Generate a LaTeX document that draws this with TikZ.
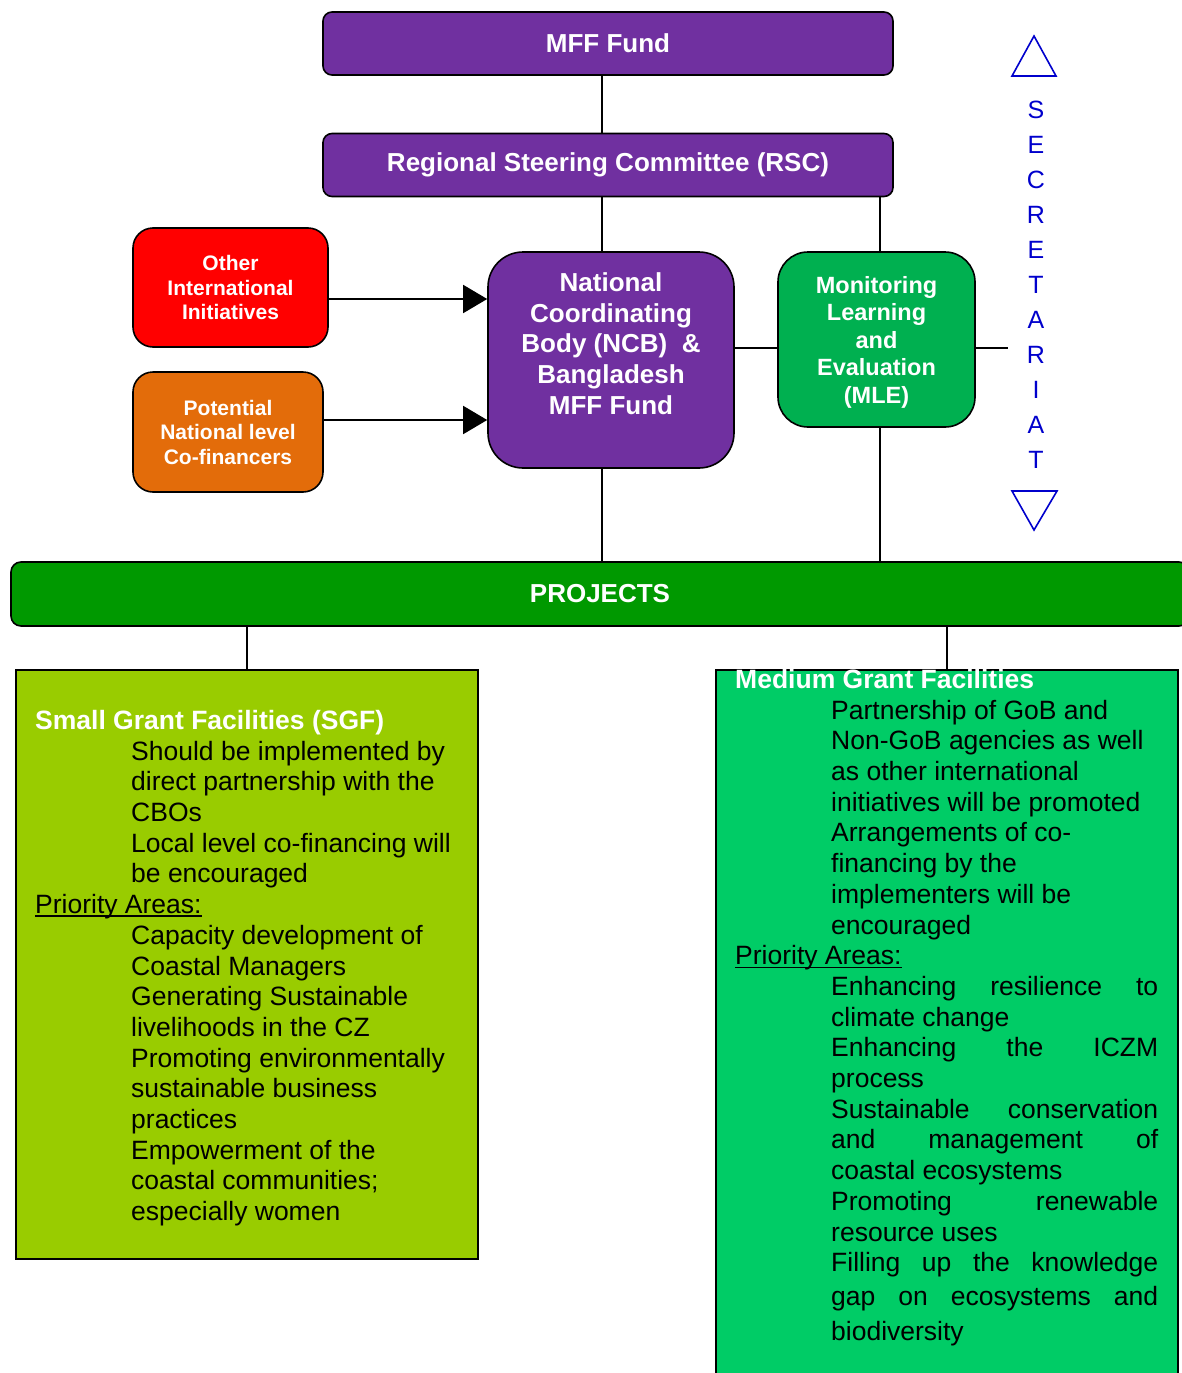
\documentclass[tikz,border=0pt]{standalone}
\usepackage{fontspec}
\setmainfont{Liberation Sans}
\usetikzlibrary{arrows.meta}
\definecolor{boardpurple}{HTML}{7030A0}
\definecolor{intlred}{HTML}{FF0000}
\definecolor{cofinorange}{HTML}{E36C0A}
\definecolor{mlegreen}{HTML}{00B050}
\definecolor{projgreen}{HTML}{009900}
\definecolor{sgflime}{HTML}{99CC00}
\definecolor{mgfgreen}{HTML}{00CC66}
\definecolor{secblue}{HTML}{0000CC}
\newcommand{\ind}{\hspace*{96pt}}
\newcommand{\jline}[1]{\makebox[327pt][s]{#1}}
\newsavebox{\ulbox}
\newcommand{\uln}[1]{\sbox{\ulbox}{#1}\rlap{\rule[-3pt]{\wd\ulbox}{1.2pt}}\usebox{\ulbox}}

\begin{document}
\begin{tikzpicture}[x=1pt,y=-1pt,
    box/.style={draw=black,line width=1.6pt,text=white,align=center,inner sep=0pt},
    link/.style={black,line width=1.6pt},
    feed/.style={link,-{Triangle[length=24pt,width=28pt]}},
    bodytext/.style={inner sep=0pt,anchor=north west,align=left,font=\fontsize{26.5}{30.7}\selectfont}]
  \useasboundingbox (0,0) rectangle (1182,1373);
  \clip (0,0) rectangle (1182,1373);
  % top of the structure
  \node[box,fill=boardpurple,rounded corners=9pt,minimum width=570pt,minimum height=63pt,font=\bfseries\fontsize{26}{30}\selectfont] (mff) at (608,43.5) {MFF Fund};
  \node[box,fill=boardpurple,rounded corners=9pt,minimum width=570pt,minimum height=63pt,font=\bfseries\fontsize{26}{30}\selectfont] (rsc) at (608,165) {Regional Steering Committee (RSC)};
  \node[box,fill=intlred,rounded corners=20pt,minimum width=195pt,minimum height=119pt,font=\bfseries\fontsize{21}{24.5}\selectfont] (oii) at (230.5,287.5) {Other\\International\\Initiatives};
  \node[box,fill=cofinorange,rounded corners=20pt,minimum width=190pt,minimum height=120pt,font=\bfseries\fontsize{21}{24.5}\selectfont] (pot) at (228,432) {Potential\\National level\\Co-financers};
  \node[box,fill=boardpurple,rounded corners=35pt,minimum width=246pt,minimum height=216pt] (ncb) at (611,360) {};
  \node[text=white,align=center,inner sep=0pt,font=\bfseries\fontsize{26}{30.7}\selectfont] (ncbtext) at (611,343.5) {National\\Coordinating\\Body (NCB)~~\&\\Bangladesh\\MFF Fund};
  \node[box,fill=mlegreen,rounded corners=30pt,minimum width=197pt,minimum height=175pt] (mle) at (876.5,339.5) {};
  \node[text=white,align=center,inner sep=0pt,font=\bfseries\fontsize{23.5}{27.5}\selectfont] (mletext) at (876.5,342) {Monitoring\\Learning\\and\\Evaluation\\(MLE)};
  % secretariat
  \foreach \l [count=\i] in {S,E,C,R,E,T,A,R,I,A,T}
    \node[text=secblue,inner sep=0pt,font=\fontsize{25}{30}\selectfont] (sec\i) at (1036,75+35*\i) {\l};
  \draw[secblue,line width=1.6pt,line join=miter] (1034,36) -- (1056,76) -- (1012,76) -- cycle;
  \draw[secblue,line width=1.6pt,line join=miter] (1012,491) -- (1057,491) -- (1034,530) -- cycle;
  % projects
  \node[box,fill=projgreen,rounded corners=10pt,minimum width=1178pt,minimum height=64pt,font=\bfseries\fontsize{26}{30}\selectfont] (proj) at (600,594) {PROJECTS};
  \node[draw=black,line width=1.6pt,fill=sgflime,minimum width=462pt,minimum height=589pt,inner sep=0pt] (sgf) at (247,964.5) {};
  \node[draw=black,line width=1.6pt,fill=mgfgreen,minimum width=462pt,minimum height=720pt,inner sep=0pt] (mgf) at (947,1030) {};
  \node[bodytext] (sgftext) at (35,710) {{\bfseries\color{white}Small Grant Facilities (SGF)}\\
    \ind Should be implemented by\\
    \ind direct partnership with the\\
    \ind CBOs\\
    \ind Local level co-financing will\\
    \ind be encouraged\\
    \uln{Priority Areas:}\\
    \ind Capacity development of\\
    \ind Coastal Managers\\
    \ind Generating Sustainable\\
    \ind livelihoods in the CZ\\
    \ind Promoting environmentally\\
    \ind sustainable business\\
    \ind practices\\
    \ind Empowerment of the\\
    \ind coastal communities;\\
    \ind especially women};
  \node[bodytext] (mgftext) at (735,669) {{\bfseries\color{white}Medium Grant Facilities}\\
    \ind Partnership of GoB and\\
    \ind Non-GoB agencies as well\\
    \ind as other international\\
    \ind initiatives will be promoted\\
    \ind Arrangements of co-\\
    \ind financing by the\\
    \ind implementers will be\\
    \ind encouraged\\
    \uln{Priority Areas:}\\
    \ind\jline{Enhancing resilience to}\\
    \ind climate change\\
    \ind\jline{Enhancing the ICZM}\\
    \ind process\\
    \ind\jline{Sustainable conservation}\\
    \ind\jline{and management of}\\
    \ind coastal ecosystems\\
    \ind\jline{Promoting renewable}\\
    \ind resource uses\\
    \ind\jline{Filling up the knowledge}\\[3.5pt]
    \ind\jline{gap on ecosystems and}\\[3.5pt]
    \ind biodiversity};
  % connectors
  \coordinate (spine) at (602,0);
  \coordinate (mlecol) at (880,0);
  \coordinate (hub) at (0,348);
  \coordinate (secl) at (1008,348);
  \coordinate (a1) at (0,299);
  \coordinate (a2) at (0,420);
  \draw[link] (mff.south -| spine) -- (rsc.north -| spine);
  \draw[link] (rsc.south -| spine) -- (ncb.north -| spine);
  \draw[link] (ncb.south -| spine) -- (proj.north -| spine);
  \draw[link] (rsc.south -| mlecol) -- (mle.north -| mlecol);
  \draw[link] (mle.south -| mlecol) -- (proj.north -| mlecol);
  \draw[link] (ncb.east |- hub) -- (mle.west |- hub);
  \draw[link] (mle.east |- hub) -- (secl);
  \draw[feed] (oii.east |- a1) -- (ncb.west |- a1);
  \draw[feed] (pot.east |- a2) -- (ncb.west |- a2);
  \draw[link] (proj.south -| sgf.north) -- (sgf.north);
  \draw[link] (proj.south -| mgf.north) -- (mgf.north);
\end{tikzpicture}
\end{document}
